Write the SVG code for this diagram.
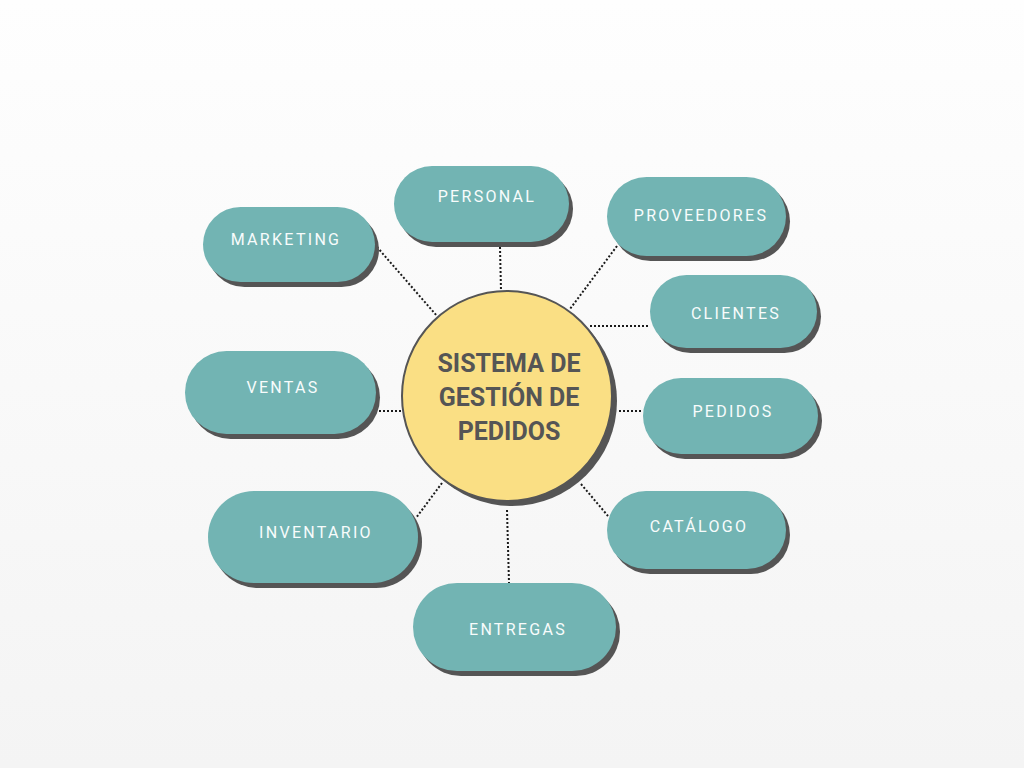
<svg xmlns="http://www.w3.org/2000/svg" width="1024" height="768" viewBox="0 0 1024 768">
<defs>
<linearGradient id="bg" x1="0" y1="0" x2="0" y2="1">
<stop offset="0" stop-color="#fefefe"/>
<stop offset="1" stop-color="#f4f4f4"/>
</linearGradient>
</defs>
<style>
.sh{fill:#555555}
.pill{fill:#72b4b3}
.lbl{font-family:Roboto,"Liberation Sans",sans-serif;font-size:16px;fill:#f8fcfc;letter-spacing:2.3px;text-anchor:middle}
.con{stroke:#1a1a1a;stroke-width:2;stroke-dasharray:2 2;fill:none}
.ctr{font-family:Roboto,"Liberation Sans",sans-serif;font-size:25px;font-weight:bold;fill:#555555;text-anchor:middle}
</style>
<rect width="1024" height="768" fill="url(#bg)"/>
<g id="connectors">
<line class="con" x1="377" y1="247" x2="437" y2="316"/>
<line class="con" x1="500" y1="247" x2="501" y2="291"/>
<line class="con" x1="617" y1="246" x2="570" y2="309"/>
<line class="con" x1="590" y1="326" x2="650" y2="326"/>
<line class="con" x1="619" y1="411" x2="643" y2="411"/>
<line class="con" x1="581" y1="484" x2="608" y2="516"/>
<line class="con" x1="507" y1="510" x2="509" y2="583"/>
<line class="con" x1="442" y1="483" x2="416" y2="518"/>
<line class="con" x1="379" y1="411" x2="401" y2="411"/>
</g>
<g id="center">
<circle class="sh" cx="512" cy="401" r="105"/>
<circle cx="507" cy="396" r="105" fill="#fadf84" stroke="#555555" stroke-width="2"/>
<text class="ctr" x="509" y="372">SISTEMA DE</text>
<text class="ctr" x="509" y="406">GESTIÓN DE</text>
<text class="ctr" x="509" y="440">PEDIDOS</text>
</g>
<g id="marketing">
<rect class="sh" x="207" y="212" width="172" height="75" rx="37.5"/>
<rect class="pill" x="203" y="207" width="172" height="75" rx="37.5"/>
<text class="lbl" x="286" y="245">MARKETING</text>
</g>
<g id="personal">
<rect class="sh" x="398" y="171" width="175" height="76" rx="38"/>
<rect class="pill" x="394" y="166" width="175" height="76" rx="38"/>
<text class="lbl" x="487" y="202">PERSONAL</text>
</g>
<g id="proveedores">
<rect class="sh" x="611" y="182" width="179" height="79" rx="39.5"/>
<rect class="pill" x="607" y="177" width="179" height="79" rx="39.5"/>
<text class="lbl" x="701" y="221">PROVEEDORES</text>
</g>
<g id="clientes">
<rect class="sh" x="654" y="280" width="167" height="73" rx="36.5"/>
<rect class="pill" x="650" y="275" width="167" height="73" rx="36.5"/>
<text class="lbl" x="736" y="319">CLIENTES</text>
</g>
<g id="pedidos">
<rect class="sh" x="647" y="383" width="175" height="76" rx="38"/>
<rect class="pill" x="643" y="378" width="175" height="76" rx="38"/>
<text class="lbl" x="733" y="417">PEDIDOS</text>
</g>
<g id="catalogo">
<rect class="sh" x="611" y="496" width="179" height="78" rx="39"/>
<rect class="pill" x="607" y="491" width="179" height="78" rx="39"/>
<text class="lbl" x="699" y="532">CATÁLOGO</text>
</g>
<g id="entregas">
<rect class="sh" x="417" y="588" width="203" height="88" rx="44"/>
<rect class="pill" x="413" y="583" width="203" height="88" rx="44"/>
<text class="lbl" x="518" y="635">ENTREGAS</text>
</g>
<g id="inventario">
<rect class="sh" x="212" y="496" width="210" height="92" rx="46"/>
<rect class="pill" x="208" y="491" width="210" height="92" rx="46"/>
<text class="lbl" x="316" y="538">INVENTARIO</text>
</g>
<g id="ventas">
<rect class="sh" x="189" y="356" width="191" height="83" rx="41.5"/>
<rect class="pill" x="185" y="351" width="191" height="83" rx="41.5"/>
<text class="lbl" x="283" y="393">VENTAS</text>
</g>
</svg>
